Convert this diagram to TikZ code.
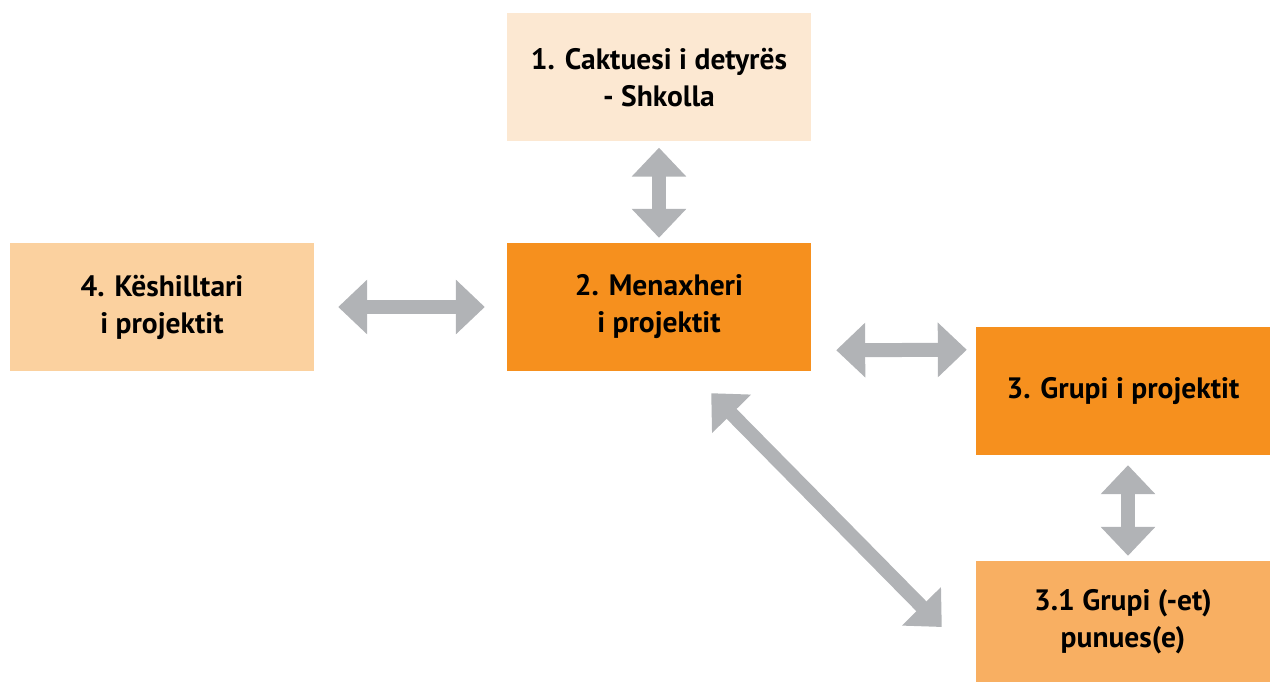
\documentclass[tikz,border=0pt]{standalone}
\usepackage{fontspec}
\setmainfont{PT Sans}
\usetikzlibrary{arrows.meta,calc}
\definecolor{peach}{HTML}{FCE8D2}
\definecolor{orng}{HTML}{F6901E}
\definecolor{lorng}{HTML}{FBD19F}
\definecolor{morng}{HTML}{F8AF62}
\definecolor{arrg}{HTML}{B1B3B6}
\tikzset{
  box/.style={minimum width=304pt,minimum height=128pt,inner sep=0pt,align=center,
    font=\fontsize{29.5}{37}\selectfont\bfseries,text=black},
  dbl/.style={draw=arrg,line width=14pt,
    {Triangle[width=53pt,length=29pt]}-{Triangle[width=53pt,length=29pt]}}
}
\begin{document}
\begin{tikzpicture}[x=1pt,y=-1pt]
\useasboundingbox (0,0) rectangle (1270,682);
\node[box,fill=peach] (n1) at (659,77.5) {1. Caktuesi i detyrës\\- Shkolla};
\node[box,fill=orng] (n2) at (659,307) {2. Menaxheri\\i projektit};
\node[box,fill=lorng] (n4) at (162,307) {4. Këshilltari\\i projektit};
\node[box,fill=orng,minimum width=294pt] (n3) at (1123,391) {3. Grupi i projektit};
\node[box,fill=morng,minimum width=294pt,minimum height=121pt] (n31) at (1123,621.5) {3.1 Grupi (-et)\\punues(e)};
\draw[dbl] ($(n1.south)+(0,6)$) -- ($(n2.north)+(0,-5)$);
\draw[dbl] ($(n4.east)+(24,0)$) -- ($(n2.west)+(-22,0)$);
\draw[dbl] ($(n2.south east)+(25,-21)$) -- ($(n3.north west)+(-9,23)$);
\draw[dbl] ($(n3.south)+(5,10)$) -- ($(n31.north)+(5,-5)$);
\draw[dbl] ($(n2.south east)+(-100,22)$) -- ($(n31.west)+(-34,5.5)$);
\end{tikzpicture}
\end{document}
